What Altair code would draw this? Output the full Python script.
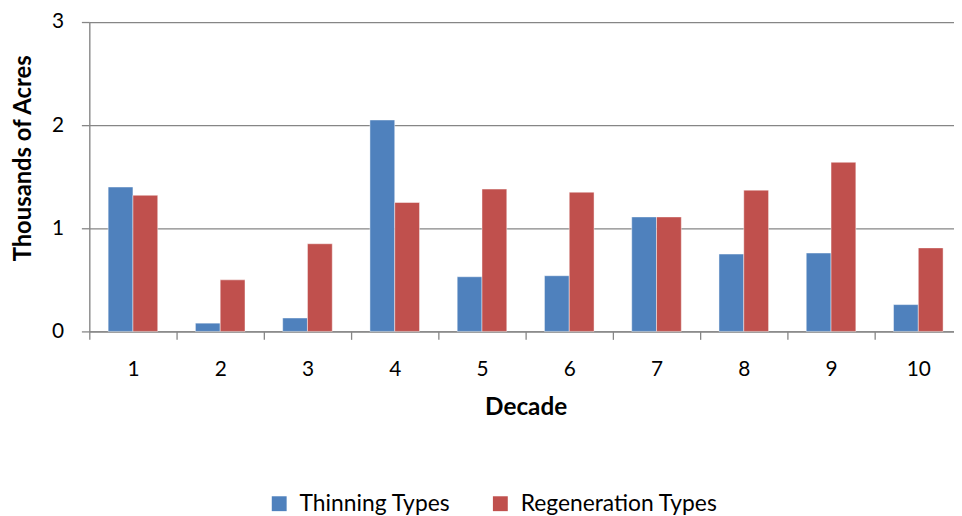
import altair as alt
import pandas as pd

decades = ["1", "2", "3", "4", "5", "6", "7", "8", "9", "10"]
series = ["Thinning Types", "Regeneration Types"]
thinning = [1.40, 0.08, 0.13, 2.05, 0.53, 0.54, 1.11, 0.75, 0.76, 0.26]
regeneration = [1.32, 0.50, 0.85, 1.25, 1.38, 1.35, 1.11, 1.37, 1.64, 0.81]
colors = ["#4F81BD", "#C0504D"]

rows = []
for d, t, r in zip(decades, thinning, regeneration):
    rows.append({"Decade": d, "Series": series[0], "Value": t})
    rows.append({"Decade": d, "Series": series[1], "Value": r})
df = pd.DataFrame(rows)

FONT = "Lato"
GRID = "#868686"

chart = alt.Chart(df).mark_bar(
    stroke="white", strokeOpacity=0.45, strokeWidth=1
).encode(
    x=alt.X(
        "Decade:N",
        sort=decades,
        scale=alt.Scale(paddingInner=0, paddingOuter=0, range=[0, 880]),
        axis=alt.Axis(
            title="Decade",
            tickBand="extent",
            labelAngle=0,
            labelFontSize=21,
            labelPadding=19,
            labelColor="black",
            labelFont=FONT,
            tickSize=8,
            tickColor=GRID,
            tickWidth=1.3,
            domainColor=GRID,
            domainWidth=1.3,
            grid=False,
            titleFont=FONT,
            titleFontSize=24.5,
            titleFontWeight="bold",
            titleColor="black",
            titlePadding=17,
            titleX=440,
        ),
    ),
    xOffset=alt.XOffset(
        "Series:N",
        sort=series,
        scale=alt.Scale(paddingInner=0, paddingOuter=0.76),
    ),
    y=alt.Y(
        "Value:Q",
        scale=alt.Scale(domain=[0, 3], nice=False),
        axis=alt.Axis(
            title="Thousands of Acres",
            values=[0, 1, 2, 3],
            format="d",
            labelFontSize=21,
            labelFont=FONT,
            labelColor="black",
            labelPadding=18,
            tickSize=8,
            tickColor=GRID,
            tickWidth=1.3,
            domainColor=GRID,
            domainWidth=1.3,
            grid=True,
            gridColor=GRID,
            gridWidth=1.3,
            titleFont=FONT,
            titleFontSize=24,
            titleFontWeight="bold",
            titleColor="black",
            titleAngle=270,
            titleAlign="center",
            titleBaseline="middle",
            titleX=-66,
            titleY=137,
        ),
    ),
    color=alt.Color(
        "Series:N",
        sort=series,
        scale=alt.Scale(domain=series, range=colors),
        legend=alt.Legend(
            title=None,
            orient="none",
            direction="horizontal",
            legendX=180,
            legendY=474,
            symbolType="square",
            symbolSize=225,
            symbolStrokeWidth=0,
            symbolOpacity=1,
            labelFont=FONT,
            labelFontSize=23,
            labelLimit=0,
            labelColor="black",
            labelOffset=9,
            columnPadding=38,
            padding=0,
        ),
    ),
).properties(
    width=872,
    height=312,
    autosize=alt.AutoSizeParams(type="none"),
    padding={"left": 82, "top": 12, "right": 0, "bottom": 184},
).configure_view(
    stroke=None
).configure(
    background="white"
)

chart.save("out.html", embed_options={"renderer": "svg", "actions": False})
